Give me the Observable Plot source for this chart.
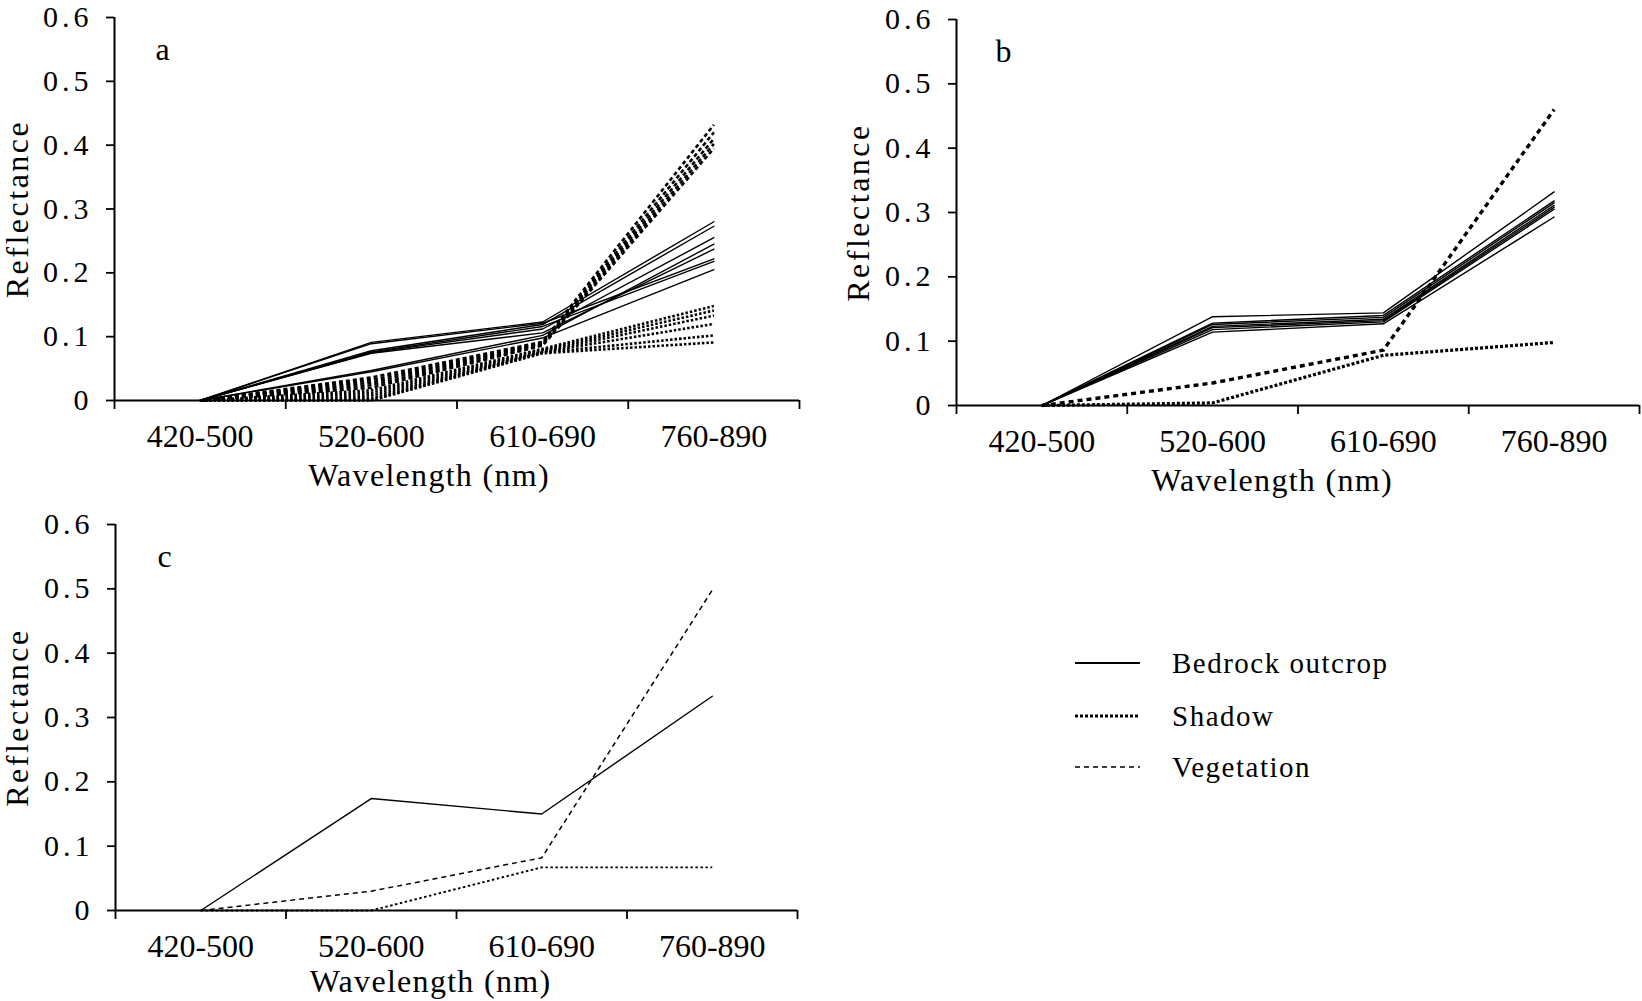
<!DOCTYPE html>
<html><head><meta charset="utf-8">
<script src="https://cdn.jsdelivr.net/npm/d3@7"></script>
<script src="https://cdn.jsdelivr.net/npm/@observablehq/plot@0.6"></script>
<style>
body{margin:0;background:#fff;}
#page{position:relative;width:1642px;height:1001px;overflow:hidden;background:#fff;}
.panel{position:absolute;}
.panel svg{overflow:visible;}
g[aria-label="y-axis tick label"] text{letter-spacing:4px;}
</style></head><body><div id="page"></div>
<script>
const categories = ["420-500","520-600","610-690","760-890"];
const yTicks = [0,0.1,0.2,0.3,0.4,0.5,0.6];
const bandEdges = [0,1,2,3,4];
const legendItems = ["Bedrock outcrop","Shadow","Vegetation"];

const aBedrock = [
  [0, 0.091, 0.123, 0.280],
  [0, 0.089, 0.121, 0.222],
  [0, 0.078, 0.119, 0.273],
  [0, 0.076, 0.116, 0.218],
  [0, 0.075, 0.112, 0.255],
  [0, 0.074, 0.106, 0.237],
  [0, 0.047, 0.102, 0.245],
  [0, 0.045, 0.098, 0.205]
];
const aShadow = [
  [0, 0.016, 0.081, 0.148],
  [0, 0.012, 0.079, 0.141],
  [0, 0.008, 0.077, 0.133],
  [0, 0.004, 0.076, 0.120],
  [0, 0.001, 0.075, 0.102],
  [0, 0.000, 0.074, 0.091]
];
const aVegetation = [
  [0, 0.036, 0.092, 0.432],
  [0, 0.032, 0.090, 0.420],
  [0, 0.028, 0.089, 0.410],
  [0, 0.024, 0.087, 0.402],
  [0, 0.020, 0.086, 0.395]
];
const bBedrock = [
  [0, 0.138, 0.144, 0.332],
  [0, 0.128, 0.140, 0.318],
  [0, 0.126, 0.137, 0.315],
  [0, 0.123, 0.134, 0.311],
  [0, 0.121, 0.132, 0.308],
  [0, 0.118, 0.130, 0.305],
  [0, 0.114, 0.127, 0.293]
];
const bShadow = [[0, 0.004, 0.078, 0.098]];
const bVegetation = [[0, 0.035, 0.086, 0.460]];
const cBedrock = [[0, 0.174, 0.150, 0.333]];
const cShadow = [[0, 0.000, 0.067, 0.067]];
const cVegetation = [[0, 0.030, 0.082, 0.498]];

function rows(lines) {
  return lines.flatMap((vals, k) => vals.map((v, i) => ({x: i + 0.5, y: v, id: k})));
}

const FONT = "'Liberation Serif', 'DejaVu Serif', serif";

function panel(o) {
  const s = o.styles;
  const svg = Plot.plot({
    width: o.width, height: o.height,
    marginLeft: o.ml, marginRight: o.mr, marginTop: o.mt, marginBottom: o.mb,
    style: {fontFamily: FONT, fontSize: "32px", color: "#000", background: "transparent", overflow: "visible"},
    x: {domain: [0, 4], axis: null},
    y: {domain: [0, 0.6], axis: null},
    marks: [
      Plot.line(rows(o.bedrock), {x: "x", y: "y", z: "id", stroke: "#000", strokeWidth: 1.4}),
      Plot.line(rows(o.vegetation), {x: "x", y: "y", z: "id", stroke: "#000", strokeWidth: s.vw, strokeDasharray: s.vd, strokeLinecap: "butt"}),
      Plot.line(rows(o.shadow), {x: "x", y: "y", z: "id", stroke: "#000", strokeWidth: s.sw, strokeDasharray: s.sd, strokeLinecap: "butt"}),
      Plot.ruleY([0], {stroke: "#000", strokeWidth: 2}),
      Plot.ruleX([0], {stroke: "#000", strokeWidth: 2}),
      Plot.axisY({ticks: yTicks, tickSize: 8, tickPadding: 14, strokeWidth: 1.8, label: null, fontSize: 30,
        tickFormat: d => String(+d.toFixed(1))}),
      Plot.axisX({ticks: bandEdges, tickSize: 9, tickFormat: () => "", strokeWidth: 1.8, label: null}),
      Plot.axisX({ticks: [0.5, 1.5, 2.5, 3.5], tickSize: 0, tickPadding: 24, tickFormat: d => categories[Math.floor(d)], label: null, fontSize: 32}),
      Plot.text(["Reflectance"], {text: d => d, frameAnchor: "left", textAnchor: "middle", lineAnchor: "middle", rotate: -90, dx: o.rdx, fontSize: 32}),
      Plot.text(["Wavelength (nm)"], {text: d => d, frameAnchor: "bottom", textAnchor: "middle", lineAnchor: "middle", dx: o.wdx, dy: o.wdy, fontSize: 32}),
      Plot.text([o.letter], {text: d => d, frameAnchor: "top-left", textAnchor: "middle", lineAnchor: "middle", dx: o.ldx, dy: 32, fontSize: 32})
    ]
  });
  svg.querySelectorAll("text").forEach(t => {
    if (t.textContent === "Reflectance") t.style.letterSpacing = "2.5px";
    if (t.textContent === "Wavelength (nm)") t.style.letterSpacing = "1.3px";
  });
  const div = document.createElement("div");
  div.className = "panel";
  div.style.left = o.left + "px";
  div.style.top = o.top + "px";
  div.appendChild(svg);
  document.getElementById("page").appendChild(div);
}

panel({letter: "a", bedrock: aBedrock, shadow: aShadow, vegetation: aVegetation,
  styles: {vw: 2.6, vd: "4,3", sw: 2.6, sd: "2.5,2"},
  left: 0, top: 2, width: 820, height: 498, ml: 114, mr: 21, mt: 15, mb: 100, rdx: -97, wdx: -28, wdy: 75, ldx: 48});
panel({letter: "b", bedrock: bBedrock, shadow: bShadow, vegetation: bVegetation,
  styles: {vw: 3.4, vd: "5,4", sw: 3.2, sd: "3,2"},
  left: 820, top: 2, width: 822, height: 498, ml: 136, mr: 3, mt: 17, mb: 95, rdx: -98, wdx: -26, wdy: 75, ldx: 47});
panel({letter: "c", bedrock: cBedrock, shadow: cShadow, vegetation: cVegetation,
  styles: {vw: 1.5, vd: "5,4", sw: 1.9, sd: "2.5,2.5"},
  left: 0, top: 500, width: 820, height: 501, ml: 115, mr: 23, mt: 24, mb: 91, rdx: -98, wdx: -26, wdy: 71, ldx: 49});

// legend (line-style key)
const legendStyles = [
  {w: 2, dash: null},
  {w: 3, dash: "3,2"},
  {w: 1.5, dash: "5,4"}
];
const leg = d3.select("#page").append("svg")
  .attr("width", 420).attr("height", 160)
  .style("position", "absolute").style("left", "1060px").style("top", "630px")
  .style("overflow", "visible");
const rowsY = [33, 86, 137];
legendItems.forEach((name, i) => {
  const l = leg.append("line").attr("x1", 15).attr("x2", 80).attr("y1", rowsY[i]).attr("y2", rowsY[i])
    .attr("stroke", "#000").attr("stroke-width", legendStyles[i].w);
  if (legendStyles[i].dash) l.attr("stroke-dasharray", legendStyles[i].dash);
  leg.append("text").attr("x", 112).attr("y", rowsY[i]).attr("dy", "0.34em")
    .attr("font-family", FONT).attr("font-size", 29).style("letter-spacing", "1.5px")
    .text(name);
});
</script>
</body></html>
